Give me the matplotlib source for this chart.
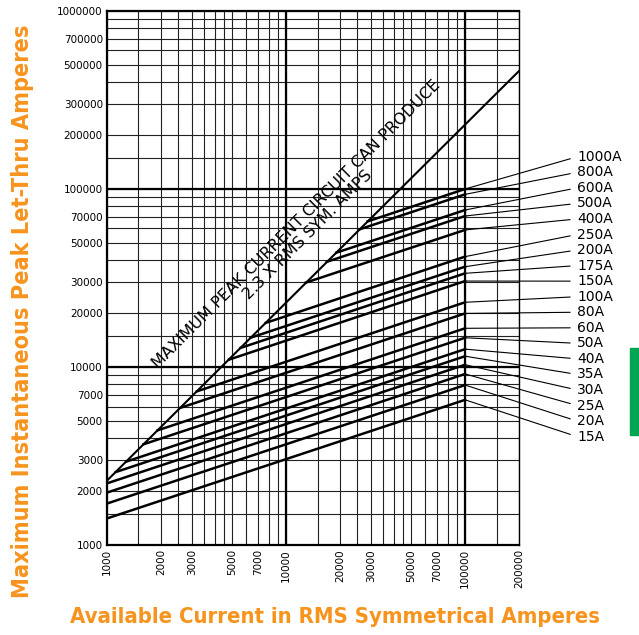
import numpy as np
import matplotlib
matplotlib.use("Agg")
import matplotlib.pyplot as plt
from matplotlib import font_manager
from matplotlib.ticker import FixedLocator, NullFormatter
from matplotlib.patches import Rectangle

# fuse ratings, let-thru peak at 100 kA, and where each curve leaves the max line
ratings = ['1000A', '800A', '600A', '500A', '400A', '250A', '200A', '175A', '150A', '100A',
           '80A', '60A', '50A', '40A', '35A', '30A', '25A', '20A', '15A']
peak_100k = [100000, 93300, 76200, 70500, 58900, 41700, 36600, 33600, 30400, 23100,
             20000, 16500, 14600, 12600, 11500, 10300, 9140, 7920, 6540]
start_current = [28600, 25800, 19100, 16900, 12900, 7710, 6330, 5570, 4800, 3180,
                 2560, 1920, 1600, 1280, 1120, 1000, 1000, 1000, 1000]
start_peak = [65800, 59400, 43900, 39000, 29800, 17700, 14600, 12800, 11000, 7300,
              5890, 4410, 3680, 2940, 2570, 2220, 1970, 1710, 1410]
end_current = 100000

# maximum peak = 2.3 x RMS symmetrical amps
max_line_x = [1000, 200000]
max_line_y = [2300, 460000]

x_ticks = [1000, 2000, 3000, 5000, 7000, 10000, 20000, 30000, 50000, 70000, 100000, 200000]
y_ticks = [1000, 2000, 3000, 5000, 7000, 10000, 20000, 30000, 50000, 70000,
           100000, 200000, 300000, 500000, 700000, 1000000]

orange = '#F7941E'

# pick a condensed bold face for the orange titles if one is installed
title_family, title_stretch = 'Liberation Sans', 'normal'
for f in font_manager.fontManager.ttflist:
    if 'Condensed' in f.name or 'Narrow' in f.name:
        title_family, title_stretch = f.name, 'normal'
        break
    if f.stretch in ('condensed', 'semi-condensed', 'extra-condensed', 'ultra-condensed'):
        title_family, title_stretch = f.name, f.stretch
        break

fig = plt.figure(figsize=(6.39, 6.35), dpi=100)
ax = fig.add_axes([0.1674, 0.1417, 0.6448, 0.841])
ax.set_xscale('log')
ax.set_yscale('log')
ax.set_xlim(1000, 200000)
ax.set_ylim(1000, 1000000)

# grid
x_grid = [m * d for d in [1000, 10000, 100000] for m in [1, 1.5, 2, 2.5, 3, 3.5, 4, 4.5, 5, 6, 7, 8, 9]] + [200000]
y_grid = [m * d for d in [1000, 10000, 100000] for m in [1, 1.5, 2, 3, 4, 5, 6, 7, 8, 9]] + [1000000]
ax.xaxis.set_major_locator(FixedLocator(x_ticks))
ax.yaxis.set_major_locator(FixedLocator(y_ticks))
ax.xaxis.set_minor_locator(FixedLocator(x_grid))
ax.yaxis.set_minor_locator(FixedLocator(y_grid))
ax.xaxis.set_minor_formatter(NullFormatter())
ax.yaxis.set_minor_formatter(NullFormatter())
ax.set_xticklabels([str(v) for v in x_ticks], rotation=90, fontsize=7.5)
ax.set_yticklabels([str(v) for v in y_ticks], fontsize=7.5)
ax.tick_params(which='both', length=0, pad=3)
ax.grid(which='minor', color='#222222', lw=0.8)
ax.grid(which='major', color='#222222', lw=0.8)
for v in [10000, 100000]:
    ax.axvline(v, color='black', lw=1.6)
    ax.axhline(v, color='black', lw=1.6)
for s in ['left', 'top', 'bottom']:
    ax.spines[s].set_linewidth(1.6)
ax.spines['right'].set_linewidth(1.0)

# max peak line
ax.plot(max_line_x, max_line_y, color='black', lw=1.5, zorder=3)
ax.text(12300, 58900, 'MAXIMUM PEAK CURRENT CIRCUIT CAN PRODUCE\n2.3 X RMS SYM. AMPS',
        rotation=45, rotation_mode='anchor', ha='center', va='center',
        multialignment='center', fontsize=11.5, linespacing=1.0, zorder=4)

# let-thru curves with leader lines to labels
label_y = np.linspace(0.727, 0.203, len(ratings))
for name, x0, y0, y1, ly in zip(ratings, start_current, start_peak, peak_100k, label_y):
    ax.plot([x0, end_current], [y0, y1], color='black', lw=1.8, zorder=3)
    ax.annotate(name, xy=(end_current, y1), xycoords='data',
                xytext=(1.141, ly), textcoords='axes fraction',
                ha='left', va='center', fontsize=10, annotation_clip=False,
                arrowprops=dict(arrowstyle='-', lw=0.8, color='black',
                                shrinkA=3, shrinkB=0, relpos=(0, 0.5)))

ylab = fig.text(0.035, 0.51, 'Maximum Instantaneous Peak Let-Thru Amperes', rotation=90,
                ha='center', va='center', color=orange, fontsize=18, fontweight='bold',
                family=title_family, fontstretch=title_stretch)
xlab = fig.text(0.524, 0.028, 'Available Current in RMS Symmetrical Amperes',
                ha='center', va='center', color=orange, fontsize=18, fontweight='bold',
                family=title_family, fontstretch=title_stretch)

# fit the titles to the lengths they have in the original
fig.canvas.draw()
r = fig.canvas.get_renderer()
ylab.set_fontsize(min(22, 18 * 575 / ylab.get_window_extent(r).height))
xlab.set_fontsize(min(22, 18 * 530 / xlab.get_window_extent(r).width))

fig.patches.append(Rectangle((630 / 639, 1 - 435 / 635), 9 / 639, 87 / 635,
                             transform=fig.transFigure, color='#00A651'))

fig.savefig('out.png', dpi=100)
